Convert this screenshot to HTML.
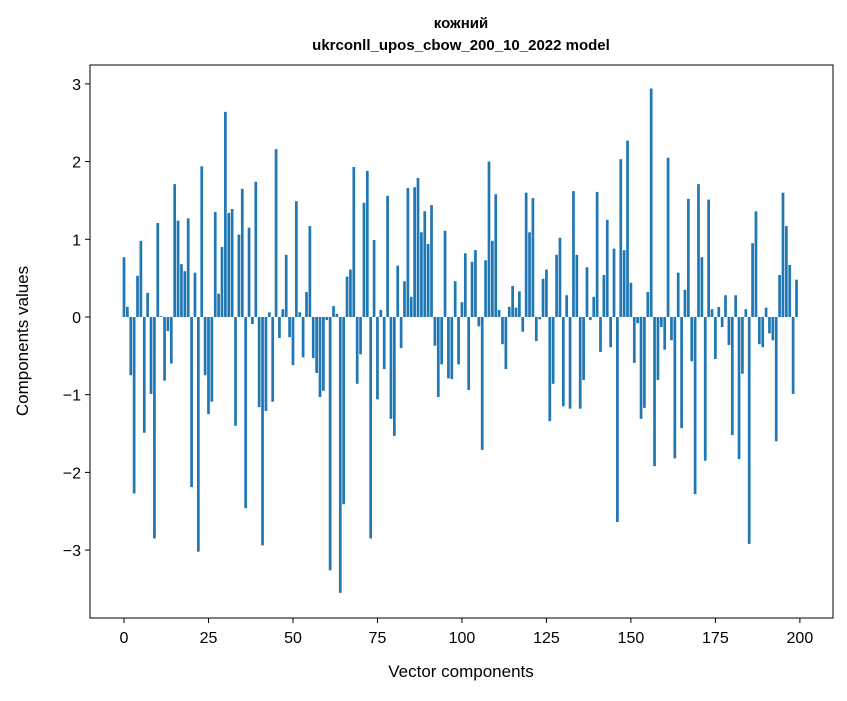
<!DOCTYPE html>
<html><head><meta charset="utf-8"><style>
body{margin:0;background:#fff;}
svg text{font-family:"Liberation Sans","DejaVu Sans",sans-serif;fill:#000;}
</style></head><body>
<svg id="chart" width="847" height="696" xmlns="http://www.w3.org/2000/svg">
<rect x="0" y="0" width="847" height="696" fill="#fff"/>
<text x="461" y="28" text-anchor="middle" font-size="15" font-weight="bold">кожний</text>
<text x="461" y="50" text-anchor="middle" font-size="15" font-weight="bold">ukrconll_upos_cbow_200_10_2022 model</text>
<g id="bars"></g>
<rect x="90" y="65" width="743" height="553" fill="none" stroke="#000" stroke-width="1"/>
<g id="xticks"></g>
<g id="yticks"></g>
<text x="461" y="677" text-anchor="middle" font-size="17">Vector components</text>
<text transform="translate(28,341) rotate(-90)" text-anchor="middle" font-size="17">Components values</text>
</svg>
<script>
const values = [0.77,0.13,-0.75,-2.27,0.53,0.98,-1.49,0.31,-0.99,-2.85,
1.21,0.01,-0.82,-0.18,-0.6,1.71,1.24,0.68,0.59,1.27,
-2.19,0.57,-3.02,1.94,-0.75,-1.25,-1.09,1.35,0.30,0.9,
2.64,1.34,1.39,-1.40,1.06,1.65,-2.46,1.15,-0.09,1.74,
-1.16,-2.94,-1.21,0.06,-1.09,2.16,-0.27,0.10,0.80,-0.26,
-0.62,1.49,0.06,-0.52,0.32,1.17,-0.53,-0.72,-1.03,-0.95,
-0.04,-3.26,0.14,0.04,-3.55,-2.41,0.52,0.61,1.93,-0.86,
-0.48,1.47,1.88,-2.85,0.99,-1.06,0.09,-0.67,1.56,-1.31,
-1.53,0.66,-0.4,0.46,1.66,0.26,1.67,1.79,1.09,1.36,
0.94,1.44,-0.37,-1.03,-0.61,1.11,-0.79,-0.80,0.46,-0.61,
0.19,0.82,-0.94,0.71,0.86,-0.12,-1.71,0.73,2.0,0.98,
1.58,0.09,-0.35,-0.67,0.13,0.40,0.12,0.33,-0.19,1.60,
1.09,1.53,-0.31,-0.03,0.49,0.61,-1.34,-0.86,0.80,1.02,
-1.15,0.28,-1.18,1.62,0.80,-1.18,-0.81,0.64,-0.04,0.26,
1.61,-0.45,0.54,1.25,-0.39,0.88,-2.64,2.03,0.86,2.27,
0.44,-0.59,-0.08,-1.31,-1.17,0.32,2.94,-1.92,-0.81,-0.13,
-0.42,2.05,-0.30,-1.82,0.57,-1.43,0.35,1.52,-0.57,-2.28,
1.71,0.77,-1.85,1.51,0.10,-0.54,0.13,-0.13,0.28,-0.36,
-1.52,0.28,-1.83,-0.73,0.10,-2.92,0.95,1.36,-0.35,-0.39,
0.12,-0.21,-0.30,-1.60,0.54,1.60,1.17,0.67,-0.99,0.48];
const xTicks = [0,25,50,75,100,125,150,175,200];
const yTicks = [-3,-2,-1,0,1,2,3];
const X0=90,X1=833,Y0=65,Y1=618;
const xMin=-10.06,xMax=209.8,yMin=-3.874,yMax=3.243;
const xs=v=>X0+(v-xMin)/(xMax-xMin)*(X1-X0);
const ys=v=>Y1-(v-yMin)/(yMax-yMin)*(Y1-Y0);
const NS="http://www.w3.org/2000/svg";
const bars=document.getElementById('bars');
values.forEach((v,i)=>{
  const r=document.createElementNS(NS,'rect');
  const x=xs(i-0.4), w=xs(i+0.4)-x;
  const yt=ys(Math.max(v,0)), yb=ys(Math.min(v,0));
  r.setAttribute('x',x);r.setAttribute('width',w);
  r.setAttribute('y',yt);r.setAttribute('height',Math.max(yb-yt,0.3));
  r.setAttribute('fill','#1f77b4');
  
  
  bars.appendChild(r);
});
const xg=document.getElementById('xticks');
xTicks.forEach(t=>{
  const l=document.createElementNS(NS,'line');
  l.setAttribute('x1',xs(t));l.setAttribute('x2',xs(t));l.setAttribute('y1',Y1);l.setAttribute('y2',Y1+5);
  l.setAttribute('stroke','#000');
  
  
  xg.appendChild(l);
  const tx=document.createElementNS(NS,'text');
  tx.setAttribute('x',xs(t));tx.setAttribute('y',Y1+25);tx.setAttribute('text-anchor','middle');tx.setAttribute('font-size','16');
  tx.textContent=t;
  
  
  xg.appendChild(tx);
});
const yg=document.getElementById('yticks');
yTicks.forEach(t=>{
  const l=document.createElementNS(NS,'line');
  l.setAttribute('x1',X0-5);l.setAttribute('x2',X0);l.setAttribute('y1',ys(t));l.setAttribute('y2',ys(t));
  l.setAttribute('stroke','#000');
  
  
  yg.appendChild(l);
  const tx=document.createElementNS(NS,'text');
  tx.setAttribute('x',X0-9);tx.setAttribute('y',ys(t)+6);tx.setAttribute('text-anchor','end');tx.setAttribute('font-size','16');
  tx.textContent=t<0?'\u2212'+Math.abs(t):String(t);
  
  
  yg.appendChild(tx);
});
</script>
</body></html>
